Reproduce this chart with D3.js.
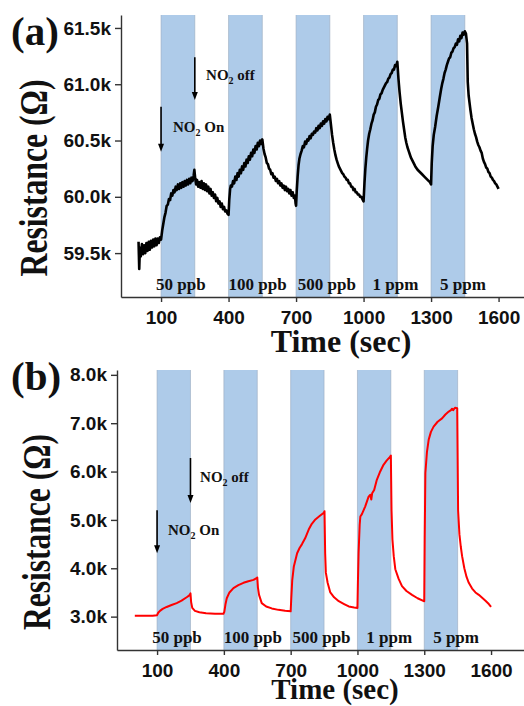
<!DOCTYPE html>
<html lang="en">
<head>
    <meta charset="UTF-8">
    <title>NO2 sensing response</title>
    <script src="https://d3js.org/d3.v7.min.js"></script>
    <style>
        body { margin: 0; background: white; }
        svg { display: block; font-family: "Liberation Serif", "Times New Roman", serif; font-weight: bold; }
        .tick text { font-size: 19px; font-weight: bold; fill: #111; }
        .tick line, .domain { stroke: #333; stroke-width: 1.4; }
    </style>
</head>
<body>
    <svg id="chart" width="524" height="706"></svg>

    <script>
        // exposure windows (sec) and gas concentration labels
        const bandStarts = [100, 400, 700, 1000, 1300];
        const bandEnds = [250, 550, 850, 1150, 1450];
        const bandLabels = ["50 ppb", "100 ppb", "500 ppb", "1 ppm", "5 ppm"];
        const bandLabelTimes = [78, 400, 708, 1040, 1340];

        const xTickValues = [100, 400, 700, 1000, 1300, 1600];
        const yTicksA = [59.5, 60.0, 60.5, 61.0, 61.5];
        const yTicksB = [3, 4, 5, 6, 7, 8];

        // panel (a) resistance, kOhm
        const timeA = [0, 3, 6, 10, 15, 20, 25, 30, 35, 40, 45, 50, 55, 60, 65, 70, 75, 80, 85, 90, 95, 100,
            105, 110, 115, 120, 125, 130, 135, 140, 145, 150, 155, 160, 165, 170, 175, 180, 185, 190, 195, 200,
            205, 210, 215, 220, 225, 230, 235, 240, 245, 248, 252,
            256, 260, 265, 270, 275, 280, 285, 290, 295, 300, 305, 310, 315, 320, 325, 330, 335, 340, 345, 350,
            355, 360, 365, 370, 375, 380, 385, 390, 395, 400,
            403, 407, 410, 415, 420, 425, 430, 435, 440, 445, 450, 455, 460, 465, 470, 475, 480, 485, 490, 495,
            500, 505, 510, 515, 520, 525, 530, 535, 540, 545, 550,
            555, 560, 565, 570, 575, 580, 585, 590, 595, 600, 605, 610, 615, 620, 625, 630, 635, 640, 645, 650,
            655, 660, 665, 670, 675, 680, 685, 690, 695, 698, 700,
            703, 707, 711, 715, 720, 725, 730, 735, 740, 745, 750, 755, 760, 765, 770, 775, 780, 785, 790, 795,
            800, 805, 810, 815, 820, 825, 830, 835, 840, 845, 850,
            855, 860, 865, 870, 875, 880, 885, 890, 895, 900, 905, 910, 915, 920, 925, 930, 935, 940, 945, 950,
            955, 960, 965, 970, 975, 980, 985, 990, 995, 1000,
            1004, 1008, 1012, 1016, 1020, 1025, 1030, 1035, 1040, 1045, 1050, 1055, 1060, 1065, 1070, 1075, 1080,
            1085, 1090, 1095, 1100, 1105, 1110, 1115, 1120, 1125, 1130, 1135, 1140, 1145, 1150,
            1155, 1160, 1165, 1170, 1175, 1180, 1185, 1190, 1195, 1200, 1205, 1210, 1215, 1220, 1225, 1230, 1240,
            1250, 1260, 1270, 1280, 1290, 1295, 1300,
            1303, 1307, 1312, 1318, 1325, 1332, 1340, 1345, 1350, 1355, 1360, 1365, 1370, 1375, 1380, 1385, 1390,
            1395, 1400, 1405, 1410, 1415, 1420, 1425, 1430, 1435, 1440, 1445, 1450, 1455,
            1460, 1463, 1467, 1470, 1475, 1480, 1485, 1490, 1495, 1500, 1505, 1510, 1515, 1520, 1525, 1530, 1535,
            1540, 1545, 1550, 1555, 1560, 1565, 1570, 1575, 1580, 1585, 1590, 1595, 1600];
        const resA = [59.60, 59.36, 59.55, 59.47, 59.58, 59.49, 59.57, 59.50, 59.59, 59.52, 59.60, 59.53, 59.61, 59.55, 59.62, 59.56, 59.63, 59.57, 59.63, 59.59, 59.64, 59.62,
            59.70, 59.76, 59.82, 59.86, 59.92, 59.93, 59.98, 59.97, 60.03, 60.01, 60.06, 60.04, 60.09, 60.06, 60.11, 60.07, 60.12, 60.08, 60.13, 60.09,
            60.14, 60.10, 60.15, 60.11, 60.16, 60.12, 60.17, 60.14, 60.19, 60.24, 60.16,
            60.11, 60.15, 60.09, 60.13, 60.08, 60.14, 60.07, 60.12, 60.06, 60.11, 60.05, 60.09, 60.03, 60.07, 60.01, 60.04, 59.99, 60.02, 59.96, 59.99,
            59.94, 59.96, 59.91, 59.94, 59.89, 59.91, 59.87, 59.88, 59.85, 59.84,
            59.97, 60.07, 60.10, 60.09, 60.14, 60.12, 60.18, 60.15, 60.21, 60.18, 60.24, 60.21, 60.27, 60.24, 60.30, 60.27, 60.33, 60.30, 60.36, 60.33,
            60.39, 60.36, 60.42, 60.39, 60.45, 60.42, 60.48, 60.45, 60.50, 60.47, 60.51,
            60.43, 60.38, 60.35, 60.30, 60.29, 60.25, 60.24, 60.20, 60.21, 60.17, 60.18, 60.14, 60.16, 60.12, 60.14, 60.10, 60.12, 60.08, 60.10, 60.06,
            60.09, 60.05, 60.07, 60.03, 60.06, 60.01, 60.04, 59.99, 60.01, 59.94, 59.92,
            60.05, 60.18, 60.28, 60.34, 60.38, 60.41, 60.45, 60.44, 60.49, 60.47, 60.51, 60.50, 60.54, 60.52, 60.56, 60.55, 60.58, 60.57, 60.61, 60.59,
            60.63, 60.61, 60.65, 60.63, 60.67, 60.65, 60.69, 60.67, 60.71, 60.69, 60.73,
            60.64, 60.55, 60.48, 60.42, 60.37, 60.33, 60.30, 60.27, 60.25, 60.23, 60.21, 60.20, 60.18, 60.17, 60.15, 60.15, 60.12, 60.12, 60.09, 60.09,
            60.06, 60.07, 60.04, 60.04, 60.02, 60.02, 60.00, 60.00, 59.98, 59.96,
            60.12, 60.25, 60.35, 60.43, 60.50, 60.56, 60.60, 60.65, 60.68, 60.73, 60.75, 60.80, 60.82, 60.86, 60.87, 60.91, 60.92,
            60.95, 60.97, 60.99, 61.01, 61.02, 61.05, 61.06, 61.09, 61.10, 61.13, 61.13, 61.17, 61.16, 61.20,
            61.05, 60.93, 60.83, 60.75, 60.67, 60.60, 60.53, 60.48, 60.44, 60.41, 60.38, 60.35, 60.33, 60.31, 60.29, 60.27, 60.24,
            60.22, 60.20, 60.18, 60.16, 60.14, 60.13, 60.11,
            60.30, 60.45, 60.55, 60.62, 60.72, 60.80, 60.90, 60.96, 61.01, 61.05, 61.10, 61.13, 61.17, 61.20, 61.23, 61.24, 61.28,
            61.29, 61.32, 61.33, 61.36, 61.35, 61.40, 61.38, 61.43, 61.41, 61.46, 61.44, 61.47, 61.45,
            61.36, 61.02, 60.90, 60.85, 60.77, 60.70, 60.65, 60.60, 60.56, 60.53, 60.49, 60.46, 60.44, 60.41, 60.39, 60.34, 60.31,
            60.29, 60.26, 60.25, 60.22, 60.21, 60.18, 60.17, 60.15, 60.14, 60.12, 60.11, 60.09, 60.07];

        // panel (b) resistance, kOhm
        const timeB = [0, 20, 40, 60, 80, 100, 105, 113, 125, 143, 165, 188, 210, 233, 245, 250,
            253, 258, 270, 290, 320, 360, 398,
            402, 407, 413, 425, 443, 465, 488, 510, 533, 545, 550,
            553, 558, 570, 590, 615, 645, 675, 700,
            703, 707, 714, 729, 740, 751, 765, 781, 795, 811, 830, 849, 852,
            855, 858, 866, 878, 895, 916, 940, 961, 985, 1000,
            1002, 1005, 1010, 1013, 1020, 1035, 1050, 1058, 1062, 1066, 1075, 1087, 1100, 1117, 1130, 1145, 1150,
            1153, 1157, 1163, 1170, 1185, 1200, 1220, 1245, 1270, 1298,
            1300, 1302, 1305, 1312, 1320, 1330, 1342, 1360, 1380, 1395, 1410, 1420, 1425, 1430, 1438, 1448,
            1452, 1458, 1464, 1470, 1480, 1490, 1500, 1515, 1530, 1545, 1560, 1575, 1590, 1600];
        const resB = [3.02, 3.02, 3.02, 3.02, 3.02, 3.03, 3.08, 3.12, 3.16, 3.20, 3.24, 3.28, 3.33, 3.40, 3.44, 3.48,
            3.30, 3.18, 3.12, 3.09, 3.07, 3.06, 3.06,
            3.10, 3.25, 3.38, 3.50, 3.59, 3.65, 3.70, 3.73, 3.76, 3.79, 3.81,
            3.60, 3.45, 3.28, 3.21, 3.17, 3.14, 3.12, 3.11,
            3.40, 3.75, 4.03, 4.31, 4.42, 4.50, 4.62, 4.80, 4.92, 5.01, 5.08, 5.15, 5.18,
            4.30, 3.91, 3.70, 3.50, 3.40, 3.32, 3.26, 3.21, 3.19, 3.18,
            3.70, 4.31, 4.90, 5.07, 5.12, 5.28, 5.48, 5.52, 5.42, 5.55, 5.62, 5.83, 5.98, 6.14, 6.22, 6.30, 6.33,
            5.20, 4.60, 4.25, 3.98, 3.78, 3.63, 3.53, 3.45, 3.38, 3.32,
            3.32, 4.60, 5.97, 6.40, 6.66, 6.82, 6.93, 7.03, 7.10, 7.18, 7.24, 7.27, 7.30, 7.27, 7.32, 7.31,
            5.20, 4.70, 4.45, 4.25, 4.00, 3.82, 3.70, 3.58, 3.50, 3.45, 3.39, 3.33, 3.26, 3.20];

        const svg = d3.select("#chart");

        const panels = [
            {
                letter: "(a)", times: timeA, values: resA, color: "#000", lineWidth: 2.6, yTicks: yTicksA,
                left: 121, right: 524, top: 15, bottom: 297,
                xDomain: [-78, 1713], yDomain: [59.11, 61.615],
                letterY: 45, yLabelX: 47, yLabelLen: 197, titleX: 341, titleY: 352, titleSize: 32,
                offArrow: [250, 61.24, 60.86], onArrow: [100, 60.80, 60.40],
                offText: [300, 61.04], onText: [153, 60.58]
            },
            {
                letter: "(b)", times: timeB, values: resB, color: "#ff0000", lineWidth: 2, yTicks: yTicksB,
                left: 117, right: 524, top: 370, bottom: 650,
                xDomain: [-80, 1748], yDomain: [2.31, 8.10],
                letterY: 390, yLabelX: 50, yLabelLen: 196, titleX: 335, titleY: 699, titleSize: 29,
                offArrow: [250, 6.28, 5.35], onArrow: [100, 5.20, 4.31],
                offText: [293, 5.78], onText: [149, 4.69]
            }
        ];

        function drawArrow(g, x, y, t, v0, v1) {
            const x0 = x(t), ya = y(v0), yb = y(v1);
            g.append("line")
                .attr("x1", x0).attr("x2", x0)
                .attr("y1", ya).attr("y2", yb - 6)
                .attr("stroke", "#000").attr("stroke-width", 1.6);
            g.append("path")
                .attr("d", `M${x0 - 3},${yb - 8}L${x0 + 3},${yb - 8}L${x0},${yb}Z`)
                .attr("fill", "#000");
        }

        function drawNO2(g, x, y, pos, word) {
            const t = g.append("text")
                .attr("x", x(pos[0])).attr("y", y(pos[1]))
                .attr("font-size", 15).attr("fill", "#111");
            t.append("tspan").text("NO");
            t.append("tspan").attr("font-size", 10).attr("dy", 4).text("2");
            t.append("tspan").attr("dy", -4).text(" " + word);
        }

        panels.forEach(p => {
            const x = d3.scaleLinear().domain(p.xDomain).range([p.left, p.right]);
            const y = d3.scaleLinear().domain(p.yDomain).range([p.bottom, p.top]);
            const g = svg.append("g");

            // gas exposure bands
            const bands = bandStarts.map((s, i) => ({ s: s, e: bandEnds[i] }));
            g.selectAll("rect.band").data(bands).enter().append("rect")
                .attr("class", "band")
                .attr("x", d => x(d.s))
                .attr("width", d => x(d.e) - x(d.s))
                .attr("y", p.top)
                .attr("height", p.bottom - p.top)
                .attr("fill", "#aecbe9");
            g.selectAll("line.edge").data(bands.flatMap(d => [d.s, d.e])).enter().append("line")
                .attr("class", "edge")
                .attr("x1", d => x(d)).attr("x2", d => x(d))
                .attr("y1", p.top).attr("y2", p.bottom)
                .attr("stroke", "#98aabd").attr("stroke-width", 0.6);

            // concentration labels
            g.selectAll("text.conc").data(bandLabels).enter().append("text")
                .attr("class", "conc")
                .attr("x", (d, i) => x(bandLabelTimes[i]))
                .attr("y", p.bottom - 7)
                .attr("font-size", 17)
                .attr("fill", "#111")
                .text(d => d);

            // response curve
            const line = d3.line().x(d => x(d[0])).y(d => y(d[1]));
            g.append("path")
                .datum(p.times.map((t, i) => [t, p.values[i]]))
                .attr("d", line)
                .attr("fill", "none")
                .attr("stroke", p.color)
                .attr("stroke-width", p.lineWidth)
                .attr("stroke-linejoin", "round");

            // axes
            g.append("g")
                .attr("transform", `translate(0,${p.bottom})`)
                .call(d3.axisBottom(x).tickValues(xTickValues).tickSize(5).tickPadding(9).tickSizeOuter(0)
                    .tickFormat(d3.format("d")));
            g.append("g")
                .attr("transform", `translate(${p.left},0)`)
                .call(d3.axisLeft(y).tickValues(p.yTicks).tickSize(6).tickPadding(4).tickSizeOuter(0)
                    .tickFormat(d => d3.format(".1f")(d) + "k"));

            // arrows and NO2 notes
            drawArrow(g, x, y, p.offArrow[0], p.offArrow[1], p.offArrow[2]);
            drawArrow(g, x, y, p.onArrow[0], p.onArrow[1], p.onArrow[2]);
            drawNO2(g, x, y, p.offText, "off");
            drawNO2(g, x, y, p.onText, "On");

            // titles
            g.append("text")
                .attr("x", 11).attr("y", p.letterY)
                .attr("font-size", 41).attr("fill", "#111")
                .text(p.letter);
            g.append("text")
                .attr("transform", `translate(${p.yLabelX},${(p.top + p.bottom) / 2 + 22}) rotate(-90)`)
                .attr("text-anchor", "middle")
                .attr("font-size", 40)
                .attr("textLength", p.yLabelLen)
                .attr("lengthAdjust", "spacingAndGlyphs")
                .attr("fill", "#111")
                .text("Resistance (\u03A9)");
            g.append("text")
                .attr("x", p.titleX).attr("y", p.titleY)
                .attr("text-anchor", "middle")
                .attr("font-size", p.titleSize).attr("fill", "#111")
                .text("Time (sec)");
        });
    </script>
</body>
</html>
